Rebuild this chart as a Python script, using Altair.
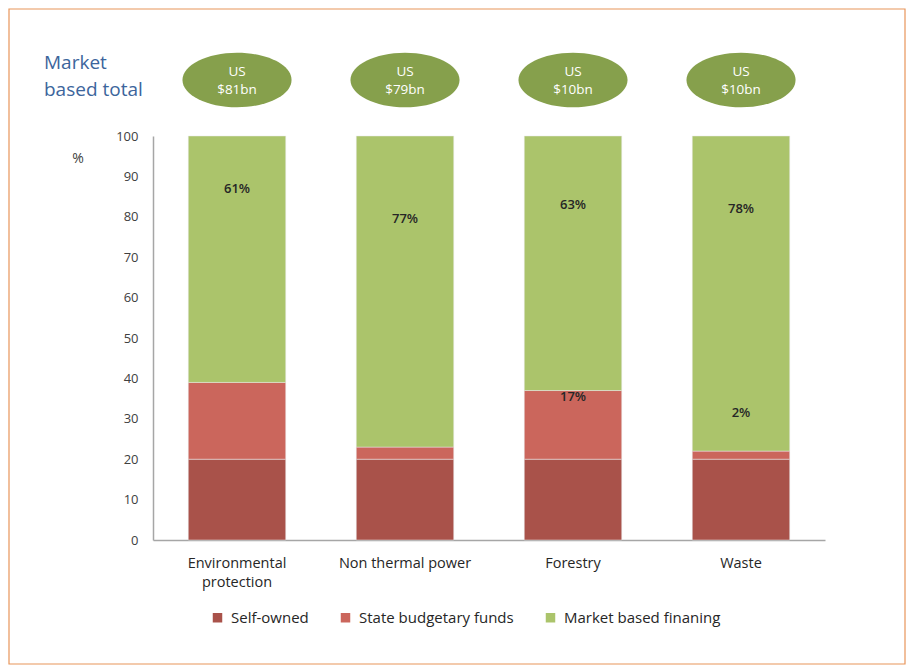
import altair as alt
import pandas as pd

categories = ["Environmental protection", "Non thermal power", "Forestry", "Waste"]
series = ["Self-owned", "State budgetary funds", "Market based finaning"]
self_owned = [20, 20, 20, 20]
state_funds = [19, 3, 17, 2]
market = [61, 77, 63, 78]
totals = ["$81bn", "$79bn", "$10bn", "$10bn"]

# percentage annotations: category, text, value position
ann_cat = ["Environmental protection", "Non thermal power", "Forestry", "Waste", "Forestry", "Waste"]
ann_text = ["61%", "77%", "63%", "78%", "17%", "2%"]
ann_y = [87, 79.5, 83, 82, 35.5, 31.5]

colors = ["#A9524A", "#CB665C", "#ABC46B"]
FONT = "Open Sans"

rows = []
for i, c in enumerate(categories):
    for j, (s, v) in enumerate(zip(series, [self_owned[i], state_funds[i], market[i]])):
        rows.append({"category": c, "series": s, "value": v, "order": j})
df = pd.DataFrame(rows)
ann_df = pd.DataFrame({"category": ann_cat, "text": ann_text, "y": ann_y})
tot_df = pd.DataFrame({"category": categories, "total": totals})

W, H = 672, 404

xscale = alt.Scale(domain=categories, paddingInner=0.42, paddingOuter=0.21)
x_enc = alt.X("category:N", scale=xscale, sort=categories, title=None,
              axis=alt.Axis(labelAngle=0, ticks=False, domainColor="#A6A6A6", domainWidth=1.5,
                            labelFont=FONT, labelFontSize=14.5, labelColor="#262626",
                            labelPadding=16, labelLineHeight=19,
                            labelExpr="datum.value == 'Environmental protection' ? ['Environmental', 'protection'] : datum.value"))

bars = alt.Chart(df).mark_bar(stroke="#E8E8E8", strokeWidth=0.5).encode(
    x=x_enc,
    y=alt.Y("value:Q", stack="zero", scale=alt.Scale(domain=[0, 100], nice=False),
            title=None,
            axis=alt.Axis(values=list(range(0, 101, 10)), ticks=False, grid=False,
                          domainColor="#A6A6A6", domainWidth=1.5,
                          labelFont=FONT, labelFontSize=13, labelColor="#404040",
                          labelPadding=15)),
    color=alt.Color("series:N", sort=series, scale=alt.Scale(domain=series, range=colors),
                    legend=alt.Legend(orient="none", legendX=57, legendY=474, direction="horizontal",
                                      title=None, symbolType="square", symbolSize=90,
                                      symbolStrokeWidth=0, labelFont=FONT, labelFontSize=15,
                                      labelColor="#262626", columnPadding=29, labelOffset=6)),
    order=alt.Order("order:Q"),
)

ann = alt.Chart(ann_df).mark_text(font=FONT, fontSize=13, color="#262626", fontWeight=600).encode(
    x=alt.X("category:N", scale=xscale, sort=categories),
    y=alt.Y("y:Q"),
    text="text:N",
)

ellipse_path = "M -1 0 A 1 0.5 0 1 1 1 0 A 1 0.5 0 1 1 -1 0 Z"
ell = alt.Chart(tot_df).mark_point(shape=ellipse_path, filled=True, size=11900,
                                   color="#86A04C", opacity=1).encode(
    x=alt.X("category:N", scale=xscale, sort=categories),
    y=alt.value(-56),
)
ell_us = alt.Chart(tot_df).mark_text(font=FONT, fontSize=13.5, color="white").encode(
    x=alt.X("category:N", scale=xscale, sort=categories),
    y=alt.value(-64),
    text=alt.value("US"),
)
ell_tot = alt.Chart(tot_df).mark_text(font=FONT, fontSize=13.5, color="white").encode(
    x=alt.X("category:N", scale=xscale, sort=categories),
    y=alt.value(-46),
    text="total:N",
)

title_df = pd.DataFrame({"t": [["Market", "based total"]]})
title_txt = alt.Chart(title_df).mark_text(font=FONT, fontSize=19, color="#3C659C", align="left",
                                          baseline="middle", lineHeight=27).encode(
    x=alt.value(-109), y=alt.value(-73), text="t:N")

pct = alt.Chart(pd.DataFrame({"t": ["%"]})).mark_text(font=FONT, fontSize=14, color="#404040").encode(
    x=alt.value(-75), y=alt.value(23), text="t:N")

frame = alt.Chart(pd.DataFrame({"a": [0]})).mark_rect(fill=None, stroke="#E8955A", strokeWidth=1.2).encode(
    x=alt.value(-144), x2=alt.value(W + 80), y=alt.value(-127), y2=alt.value(H + 124))

chart = alt.layer(frame, bars, ann, ell, ell_us, ell_tot, title_txt, pct).properties(
    width=W, height=H,
    autosize=alt.AutoSizeParams(type="none"),
    padding={"left": 145, "top": 128, "right": 81, "bottom": 126},
).configure(background="white").configure_view(stroke=None)

chart.save("out.html", embed_options={"renderer": "svg", "actions": False})
